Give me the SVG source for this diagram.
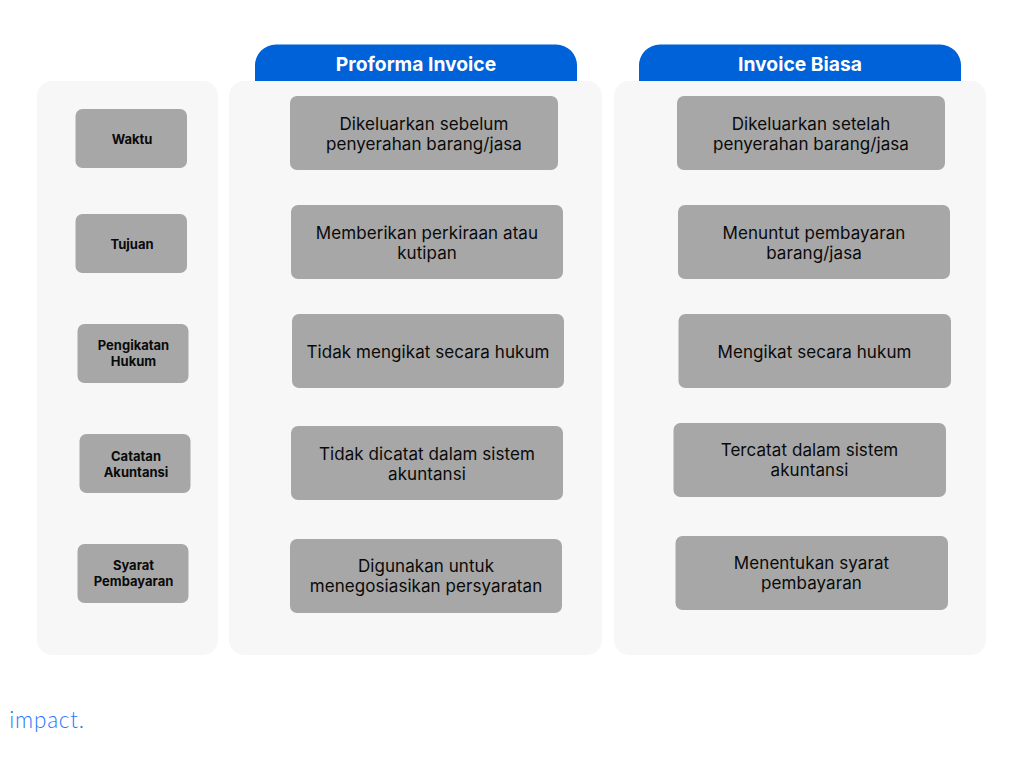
<svg xmlns="http://www.w3.org/2000/svg" width="1024" height="768" viewBox="0 0 1024 768">
<style>
text{font-family:Inter,"Liberation Sans",sans-serif;text-anchor:middle}
.panel{fill:#f7f7f7}
.head{fill:#0062d8}
.box{fill:#a7a7a7}
.ht{font-size:19.3px;font-weight:700;fill:#fff}
.lb{font-size:13px;font-weight:700;fill:#0a0a0a}
.tx{font-size:17px;letter-spacing:.07px;fill:#0a0a0a}
</style>
<rect width="1024" height="768" fill="#fff"/>
<g id="connectors"></g>
<g id="panels">
<path class="head" d="M255 82V66a21 21 0 0 1 21-21.500H556a21 21 0 0 1 21 21.500V82Z"/>
<path class="head" d="M639 82V66a21 21 0 0 1 21-21.500H940a21 21 0 0 1 21 21.500V82Z"/>
<rect class="panel" x="37" y="81" width="181" height="574" rx="15"/>
<rect class="panel" x="229" y="81" width="373" height="574" rx="15"/>
<rect class="panel" x="614" y="81" width="372" height="574" rx="15"/>
<text class="ht" x="416" y="71">Proforma Invoice</text>
<text class="ht" x="800" y="71">Invoice Biasa</text>
</g>
<g id="waktu"><rect class="box" x="75.500" y="109" width="111.500" height="59" rx="7"/><text class="lb" x="132" y="144">Waktu</text></g>
<g id="tujuan"><rect class="box" x="75.500" y="214" width="111.500" height="59" rx="7"/><text class="lb" x="132" y="249">Tujuan</text></g>
<g id="pengikatan"><rect class="box" x="77.500" y="324" width="111" height="59" rx="7"/><text class="lb" x="133.500" y="350">Pengikatan</text><text class="lb" x="133.500" y="366">Hukum</text></g>
<g id="catatan"><rect class="box" x="79.500" y="434" width="111" height="59" rx="7"/><text class="lb" x="136" y="461">Catatan</text><text class="lb" x="136" y="477">Akuntansi</text></g>
<g id="syarat"><rect class="box" x="77.500" y="544" width="111" height="59" rx="7"/><text class="lb" x="133.500" y="570">Syarat</text><text class="lb" x="133.500" y="586">Pembayaran</text></g>
<g id="p1"><rect class="box" x="290" y="96" width="268" height="74" rx="7"/><text class="tx" x="424" y="130">Dikeluarkan sebelum</text><text class="tx" x="424" y="150">penyerahan barang/jasa</text></g>
<g id="p2"><rect class="box" x="291" y="205" width="272" height="74" rx="7"/><text class="tx" x="427" y="239">Memberikan perkiraan atau</text><text class="tx" x="427" y="259">kutipan</text></g>
<g id="p3"><rect class="box" x="292" y="314" width="272" height="74" rx="7"/><text class="tx" x="428" y="358">Tidak mengikat secara hukum</text></g>
<g id="p4"><rect class="box" x="291" y="426" width="272" height="74" rx="7"/><text class="tx" x="427" y="460">Tidak dicatat dalam sistem</text><text class="tx" x="427" y="480">akuntansi</text></g>
<g id="p5"><rect class="box" x="290" y="539" width="272" height="74" rx="7"/><text class="tx" x="426" y="572">Digunakan untuk</text><text class="tx" x="426" y="592">menegosiasikan persyaratan</text></g>
<g id="i1"><rect class="box" x="677" y="96" width="268" height="74" rx="7"/><text class="tx" x="811" y="130">Dikeluarkan setelah</text><text class="tx" x="811" y="150">penyerahan barang/jasa</text></g>
<g id="i2"><rect class="box" x="678" y="205" width="272" height="74" rx="7"/><text class="tx" x="814" y="239">Menuntut pembayaran</text><text class="tx" x="814" y="259">barang/jasa</text></g>
<g id="i3"><rect class="box" x="678.500" y="314" width="272.500" height="74" rx="7"/><text class="tx" x="814.500" y="358">Mengikat secara hukum</text></g>
<g id="i4"><rect class="box" x="673.500" y="423" width="272.500" height="74" rx="7"/><text class="tx" x="809.500" y="456">Tercatat dalam sistem</text><text class="tx" x="809.500" y="476">akuntansi</text></g>
<g id="i5"><rect class="box" x="675.500" y="536" width="272.500" height="74" rx="7"/><text class="tx" x="811.500" y="569">Menentukan syarat</text><text class="tx" x="811.500" y="589">pembayaran</text></g>
<g id="logo"><text x="47" y="728" style="font-family:Lato,sans-serif;font-size:22.5px;font-weight:300;fill:#1f78ff;letter-spacing:.8px">impact.</text></g>
</svg>
